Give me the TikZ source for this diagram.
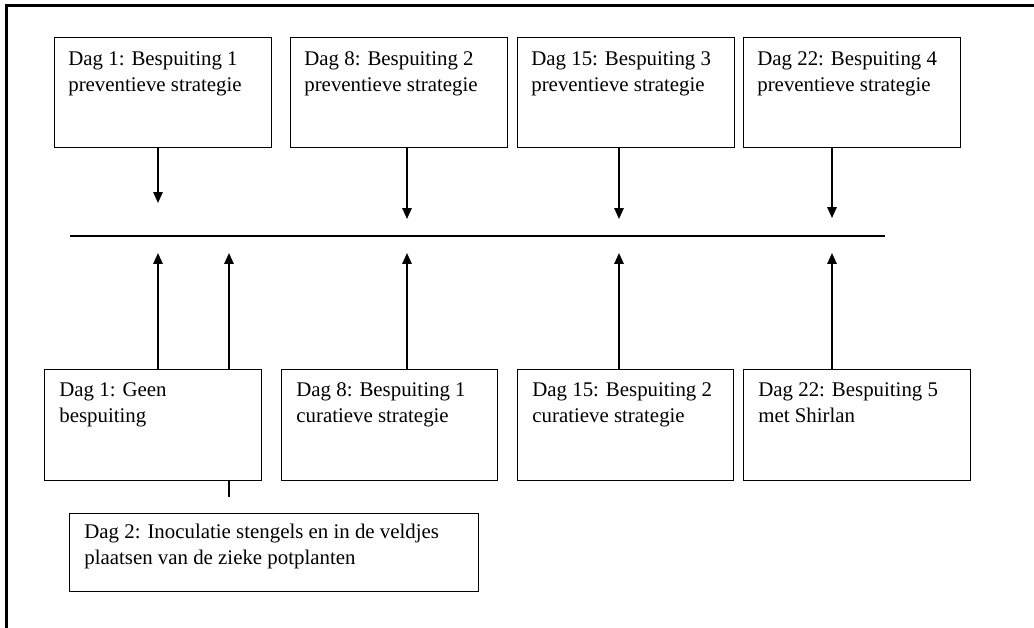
\documentclass[tikz,border=0pt]{standalone}
\usepackage{fontspec}
\setmainfont{Liberation Serif}
\usetikzlibrary{arrows.meta}
\newlength\pxu
\setlength\pxu{0.575pt}
\begin{document}
\begin{tikzpicture}[x=0.575pt,y=-0.575pt,
  box/.style={draw, line width=0.7pt, inner sep=0pt, anchor=north west},
  tbox/.style={box, minimum width=217\pxu, minimum height=110\pxu},
  bbox/.style={box, minimum width=217\pxu, minimum height=111\pxu},
  txt/.style={anchor=base west, align=left, inner sep=0pt, font=\fontsize{12}{15.1}\selectfont},
  arr/.style={line width=1pt, -{Triangle[length=6.3pt,width=5.4pt]}},
  plain/.style={line width=0.8pt}]
\useasboundingbox (0,0) rectangle (1034,627);
% outer frame (only top and left visible)
\draw[line width=1.75pt] (6.5,640) -- (6.5,5.5) -- (1045,5.5);

% top boxes
\node[tbox] (t1) at (54,37) {};
\node[tbox] (t2) at (290,37) {};
\node[tbox] (t3) at (517,37) {};
\node[tbox] (t4) at (743,37) {};
\node[txt] (t1x) at ([shift={(14,54.5)}]t1.north west) {Dag 1: Bespuiting 1\\preventieve strategie};
\node[txt] (t2x) at ([shift={(14,54.5)}]t2.north west) {Dag 8: Bespuiting 2\\preventieve strategie};
\node[txt] (t3x) at ([shift={(14,54.5)}]t3.north west) {Dag 15: Bespuiting 3\\preventieve strategie};
\node[txt] (t4x) at ([shift={(14,54.5)}]t4.north west) {Dag 22: Bespuiting 4\\preventieve strategie};

% bottom boxes
\node[bbox] (b1) at (44,369) {};
\node[bbox, minimum width=216\pxu] (b2) at (281,369) {};
\node[bbox, minimum width=216\pxu] (b3) at (517,369) {};
\node[bbox, minimum width=227\pxu] (b4) at (743,369) {};
\node[txt] (b1x) at ([shift={(15,53.5)}]b1.north west) {Dag 1: Geen\\bespuiting};
\node[txt] (b2x) at ([shift={(15,53.5)}]b2.north west) {Dag 8: Bespuiting 1\\curatieve strategie};
\node[txt] (b3x) at ([shift={(15,53.5)}]b3.north west) {Dag 15: Bespuiting 2\\curatieve strategie};
\node[txt] (b4x) at ([shift={(15,53.5)}]b4.north west) {Dag 22: Bespuiting 5\\met Shirlan};

% inoculation box
\node[box, minimum width=409\pxu, minimum height=78\pxu] (ino) at (69,513) {};
\node[txt] (inox) at ([shift={(15,51.5)}]ino.north west) {Dag 2: Inoculatie stengels en in de veldjes\\plaatsen van de zieke potplanten};

% horizontal time line
\coordinate (hl) at (70,236);
\coordinate (hr) at (885,236);
\draw[plain] (hl) -- (hr);

% tips of the downward arrows
\coordinate (d1) at (158,203);
\coordinate (d2) at (407,219);
\coordinate (d3) at (619,219);
\coordinate (d4) at (832,218);
\draw[arr] (t1.south -| d1) -- (d1);
\draw[arr] (t2.south -| d2) -- (d2);
\draw[arr] (t3.south -| d3) -- (d3);
\draw[arr] (t4.south -| d4) -- (d4);

% tips of the upward arrows
\coordinate (u1) at (158,253);
\coordinate (u2) at (229,253);
\coordinate (u3) at (407,253);
\coordinate (u4) at (619,253);
\coordinate (u5) at (832,253);
\draw[arr] (b1.north -| u1) -- (u1);
\draw[arr] (b1.north -| u2) -- (u2);
\draw[arr] (b2.north -| u3) -- (u3);
\draw[arr] (b3.north -| u4) -- (u4);
\draw[arr] (b4.north -| u5) -- (u5);

% short stub below the first bottom box
\coordinate (s) at (229,497);
\draw[plain] (b1.south -| s) -- (s);
\end{tikzpicture}
\end{document}
